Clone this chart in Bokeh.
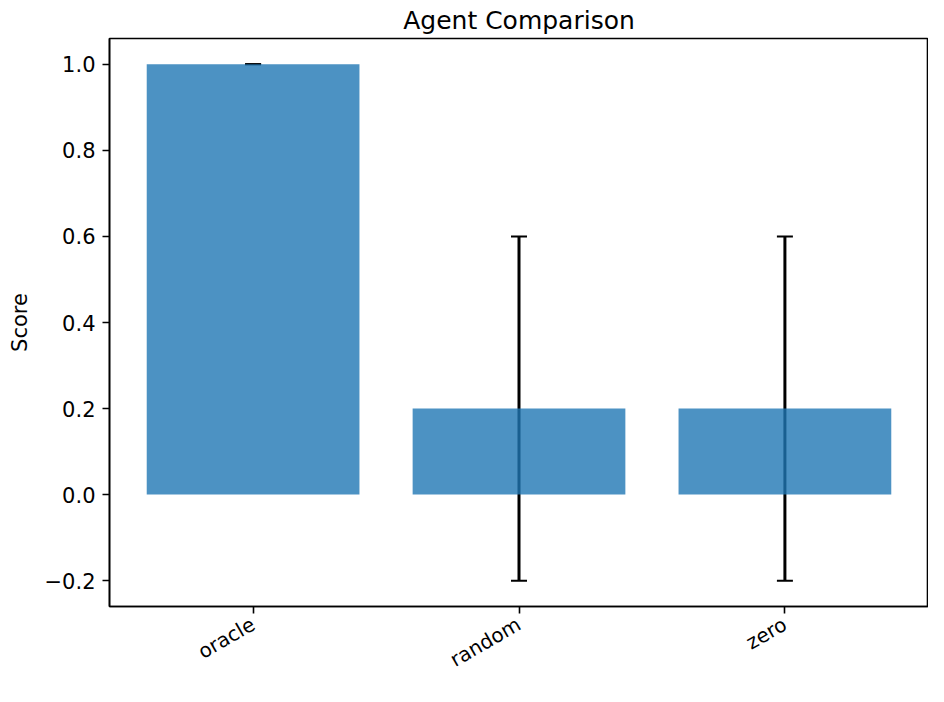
import math
from bokeh.plotting import figure
from bokeh.models import (ColumnDataSource, Whisker, TeeHead, Range1d, FixedTicker,
                          CustomJSTickFormatter)
from bokeh.embed import file_html
from bokeh.resources import INLINE

agents = ["oracle", "random", "zero"]
scores = [1.0, 0.2, 0.2]
errors = [0.0, 0.4, 0.4]
y_ticks = [-0.2, 0.0, 0.2, 0.4, 0.6, 0.8, 1.0]
y_start, y_end = -0.26, 1.06

FONT = "DejaVu Sans"
BAR_W = 0.8

pos = list(range(len(agents)))
span = (len(agents) - 1) + BAR_W
pad = 0.05 * span

src = ColumnDataSource(data=dict(
    x=pos,
    agent=agents,
    score=scores,
    upper=[s + e for s, e in zip(scores, errors)],
    lower=[s - e for s, e in zip(scores, errors)],
))

p = figure(
    width=928, height=686,
    x_range=Range1d(-BAR_W / 2 - pad, pos[-1] + BAR_W / 2 + pad),
    y_range=Range1d(y_start, y_end),
    output_backend="svg", toolbar_location=None,
    title="Agent Comparison",
    min_border_left=109, min_border_right=0, min_border_top=38, min_border_bottom=80,
)

p.vbar(x="x", top="score", width=BAR_W, source=src,
       fill_color="#1f77b4", fill_alpha=0.8, line_color=None)

w = Whisker(base="x", upper="upper", lower="lower", source=src,
            line_color="black", line_width=3,
            upper_head=TeeHead(size=16, line_color="black", line_width=2),
            lower_head=TeeHead(size=16, line_color="black", line_width=2))
p.add_layout(w)

p.title.text_font = FONT
p.title.text_font_size = "25px"
p.title.text_font_style = "normal"
p.title.align = "center"
p.title.text_color = "black"
p.title.standoff = 7

p.xgrid.visible = False
p.ygrid.visible = False

p.outline_line_color = "black"
p.outline_line_width = 1.6
p.outline_line_alpha = 1.0

for ax in (p.xaxis[0], p.yaxis[0]):
    ax.axis_line_color = "black"
    ax.axis_line_width = 1.6
    ax.major_tick_line_color = "black"
    ax.major_tick_line_width = 1.6
    ax.major_tick_out = 7
    ax.major_tick_in = 0
    ax.minor_tick_line_color = None
    ax.major_label_text_font = FONT
    ax.major_label_text_font_size = "21px"
    ax.major_label_text_color = "black"
    ax.major_label_standoff = 7

p.yaxis.ticker = FixedTicker(ticks=y_ticks)
p.yaxis.formatter = CustomJSTickFormatter(
    code="return (tick < -1e-9 ? '\u2212' : '') + Math.abs(tick).toFixed(1);")
p.yaxis.axis_label = "Score"
p.yaxis.axis_label_text_font = FONT
p.yaxis.axis_label_text_font_size = "21px"
p.yaxis.axis_label_text_font_style = "normal"
p.yaxis.axis_label_text_color = "black"
p.yaxis.axis_label_standoff = 10

# x ticks at the categories, labelled with the category names, rotated 30 degrees
p.xaxis.ticker = FixedTicker(ticks=pos)
p.xaxis.major_label_overrides = {i: name for i, name in zip(pos, agents)}
p.xaxis.major_label_orientation = math.pi / 6
p.xaxis.major_label_text_font_size = "20px"
p.xaxis.major_label_standoff = 9

open("out.html", "w").write(file_html(p, INLINE))
